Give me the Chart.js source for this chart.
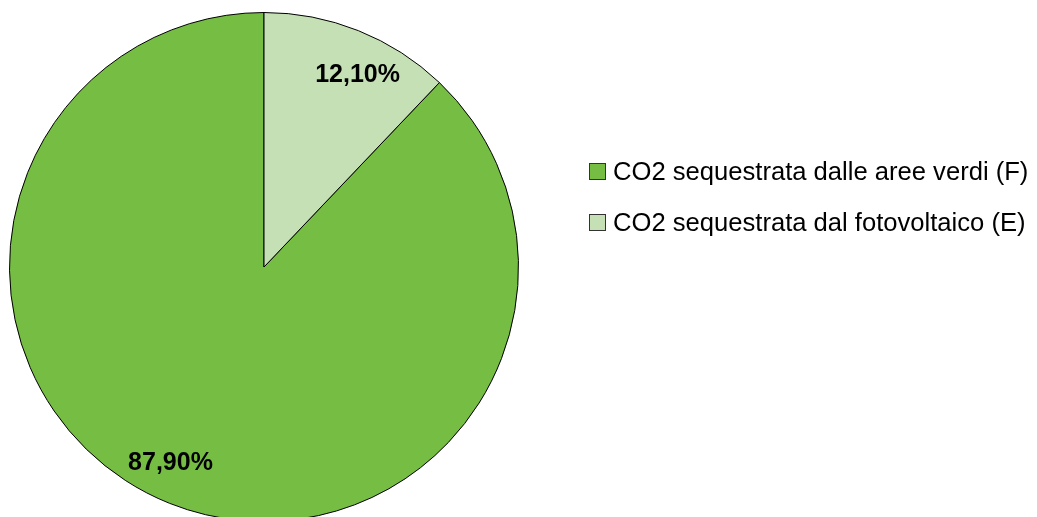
<!DOCTYPE html>
<html>
<head>
<meta charset="utf-8">
<script src="https://cdn.jsdelivr.net/npm/chart.js@4"></script>
<style>
html,body{margin:0;padding:0;background:#fff;overflow:hidden;}
#wrap{position:relative;width:1037px;height:540px;}
</style>
</head>
<body>
<div id="wrap"><canvas id="c"></canvas></div>
<script>
const categories = ["CO2 sequestrata dalle aree verdi (F)", "CO2 sequestrata dal fotovoltaico (E)"];
const values = [87.9, 12.1];
const valueLabels = ["87,90%", "12,10%"];
const colors = ["#76bd43", "#c5e0b4"];

const labelPlugin = {
  id: 'sliceLabels',
  afterDatasetsDraw(chart) {
    const ctx = chart.ctx;
    const meta = chart.getDatasetMeta(0);
    ctx.save();
    ctx.font = 'bold 25px "Liberation Sans", Arial, sans-serif';
    ctx.fillStyle = '#000';
    ctx.textAlign = 'center';
    ctx.textBaseline = 'middle';
    meta.data.forEach((arc, i) => {
      const p = arc.getProps(['x','y','startAngle','endAngle','outerRadius'], true);
      const mid = (p.startAngle + p.endAngle) / 2 + 4 * Math.PI / 180;
      const r = p.outerRadius * 0.845;
      ctx.fillText(valueLabels[i], p.x + Math.cos(mid) * r, p.y + Math.sin(mid) * r + 2);
    });
    ctx.restore();
  }
};

const legendPlugin = {
  id: 'customLegend',
  afterDraw(chart) {
    const ctx = chart.ctx;
    ctx.save();
    ctx.font = '25.6px "Liberation Sans", Arial, sans-serif';
    ctx.textBaseline = 'middle';
    ctx.textAlign = 'left';
    const x0 = 589, y0 = 171, gap = 51, box = 16;
    categories.forEach((t, i) => {
      const y = y0 + i * gap;
      ctx.fillStyle = colors[i];
      ctx.fillRect(x0 + 0.5, y - box / 2 + 0.5, box, box);
      ctx.strokeStyle = '#333';
      ctx.lineWidth = 1;
      ctx.strokeRect(x0 + 0.5, y - box / 2 + 0.5, box, box);
      ctx.fillStyle = '#000';
      ctx.fillText(t, 613, y + 2);
    });
    ctx.restore();
  }
};

new Chart(document.getElementById('c'), {
  type: 'pie',
  data: {
    labels: categories,
    datasets: [{
      data: values,
      backgroundColor: colors,
      borderColor: '#000',
      borderWidth: 1
    }]
  },
  options: {
    responsive: true,
    maintainAspectRatio: false,
    animation: false,
    rotation: 43.56,
    layout: { padding: { left: 9, top: 12, right: 518, bottom: 18 } },
    plugins: { legend: { display: false }, tooltip: { enabled: false } }
  },
  plugins: [labelPlugin, legendPlugin]
});
</script>
</body>
</html>
